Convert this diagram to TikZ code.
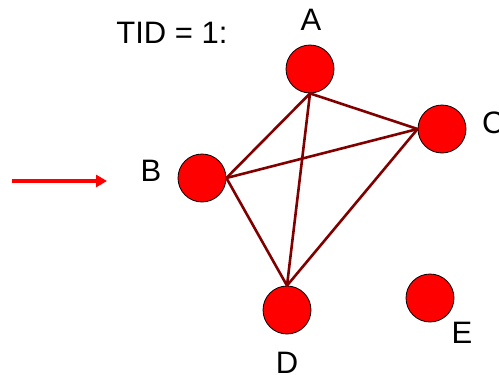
\documentclass[tikz,border=0pt]{standalone}
\usepackage{fontspec}
\setmainfont{Liberation Sans}
\usetikzlibrary{arrows.meta}
\tikzset{
  tidItem/.style={circle, draw=black, fill=red, line width=0.8pt, minimum size=48pt,
                  inner sep=0pt},
  tidLab/.style={font=\fontsize{31}{36}\selectfont, inner sep=0pt},
  tidEdge/.style={draw=red!50!black, line width=2.6pt},
  tidArrow/.style={draw=red, line width=4pt, -{Triangle[length=11pt,width=12pt]}},
}

\begin{document}
\begin{tikzpicture}[x=1pt, y=-1pt]
  \useasboundingbox (0,0) rectangle (499,375);
  \node[tidLab] (tid) at (172,33) {TID = 1:};
  \node[tidItem] (A) at (310,69) {};
  \node[tidItem] (B) at (202,178) {};
  \node[tidItem] (C) at (442,129) {};
  \node[tidItem] (D) at (287,310) {};
  \node[tidItem] (E) at (430,298) {};
  \node[tidLab] (labA) at (311,20) {A};
  \node[tidLab] (labB) at (151,171) {B};
  \node[tidLab, anchor=west] (labC) at (482,123) {C};
  \node[tidLab] (labD) at (287,363) {D};
  \node[tidLab] (labE) at (462,333) {E};
  \draw[tidEdge] (A.south) -- (B.east);
  \draw[tidEdge] (A.south) -- (C.west);
  \draw[tidEdge] (A.south) -- (D.north);
  \draw[tidEdge] (B.east) -- (C.west);
  \draw[tidEdge] (B.east) -- (D.north);
  \draw[tidEdge] (C.west) -- (D.north);
  \coordinate (arrS) at (12,181);
  \coordinate (arrE) at (107,181);
  \draw[tidArrow] (arrS) -- (arrE);
\end{tikzpicture}
\end{document}
